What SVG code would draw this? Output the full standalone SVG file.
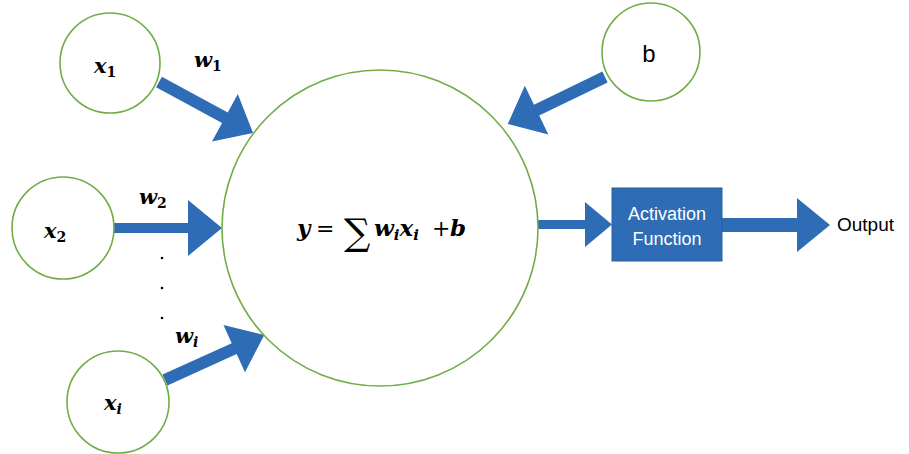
<svg xmlns="http://www.w3.org/2000/svg" width="909" height="454" viewBox="0 0 909 454">
<style>
.node{fill:#fff;stroke:#70AD47;stroke-width:1.6}
.arr{fill:#2E6DB5}
.m{font-family:"DejaVu Serif","Liberation Serif",serif;font-weight:bold;font-style:italic;font-size:21px;fill:#000}
.f{font-size:23px}
.sub{font-size:14px}
.fs{font-size:15px}
.up{font-style:normal}
.op{font-family:"DejaVu Serif","Liberation Serif",serif;font-size:22px;fill:#000}
.sig{font-family:"DejaVu Serif","Liberation Serif",serif;font-size:37px;fill:#000}
.lbl{font-family:"Liberation Sans",Arial,sans-serif;font-size:19px;fill:#000}
.bl{font-family:"Liberation Sans",Arial,sans-serif;font-size:24px;fill:#000}
.wt{font-family:"Liberation Sans",Arial,sans-serif;font-size:18px;fill:#fff}
</style>
<rect width="909" height="454" fill="#fff"/>
<g id="connectors">
<polygon class="arr" transform="translate(159,82) rotate(28.5)" points="0,-6 75,-6 75,-27 107,0 75,27 75,6 0,6"/>
<polygon class="arr" transform="translate(113,228)" points="0,-5 75,-5 75,-28 109,0 75,28 75,5 0,5"/>
<polygon class="arr" transform="translate(165,380) rotate(-24.4)" points="0,-6 76,-6 76,-26 109,0 76,26 76,6 0,6"/>
<polygon class="arr" transform="translate(605,77) rotate(154.2)" points="0,-6 76,-6 76,-27 108,0 76,27 76,6 0,6"/>
<polygon class="arr" points="538,220 585,220 585,202 612,224.5 585,247 585,229 538,229"/>
<polygon class="arr" points="722,218 797,218 797,198 830,225 797,252 797,232 722,232"/>
</g>
<g id="sum">
<circle class="node" cx="380" cy="228" r="158"/>
<text class="m f" x="297" y="236">y</text>
<text class="op" x="316" y="236">=</text>
<text class="sig" x="344" y="245">∑</text>
<text class="m f" x="374" y="236">w<tspan class="fs" dy="4">i</tspan><tspan dy="-4">x</tspan><tspan class="fs" dy="4">i</tspan></text>
<text class="op" x="432" y="236">+</text>
<text class="m f" x="450" y="236">b</text>
</g>
<g id="x1">
<circle class="node" cx="110" cy="63" r="50"/>
<text class="m" x="94" y="73">x<tspan class="sub up" dy="4">1</tspan></text>
</g>
<g id="x2">
<circle class="node" cx="63" cy="228" r="51"/>
<text class="m" x="44" y="238">x<tspan class="sub up" dy="4">2</tspan></text>
</g>
<g id="xi">
<circle class="node" cx="118" cy="402" r="51"/>
<text class="m" x="104" y="410">x<tspan class="sub" dy="4">i</tspan></text>
</g>
<g id="b">
<circle class="node" cx="651" cy="52" r="49"/>
<text class="bl" x="649" y="62" text-anchor="middle">b</text>
</g>
<g id="w1"><text class="m" x="194" y="67">w<tspan class="sub up" dy="4">1</tspan></text></g>
<g id="w2"><text class="m" x="139" y="204">w<tspan class="sub up" dy="4">2</tspan></text></g>
<g id="wi"><text class="m" x="175" y="343">w<tspan class="sub" dy="4">i</tspan></text></g>
<g id="dots" fill="#000">
<circle cx="162" cy="258" r="1.3"/>
<circle cx="162" cy="288" r="1.3"/>
<circle cx="162" cy="318" r="1.3"/>
</g>
<g id="activation">
<rect x="612" y="188" width="110" height="73" fill="#2E6DB5" stroke="#2A5E9C" stroke-width="1"/>
<text class="wt" x="667" y="220" text-anchor="middle">Activation</text>
<text class="wt" x="667" y="245" text-anchor="middle">Function</text>
</g>
<g id="output"><text class="lbl" x="837" y="231">Output</text></g>
</svg>
